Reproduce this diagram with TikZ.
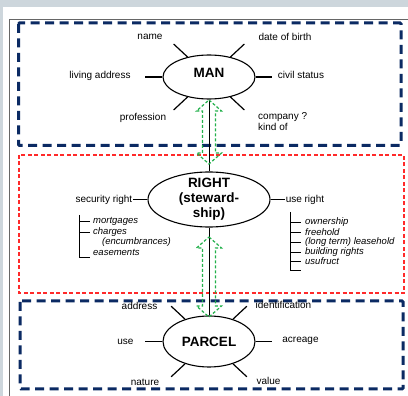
\documentclass[tikz,border=0pt]{standalone}
\usepackage{fontspec}
\setmainfont{Liberation Sans}
\usetikzlibrary{calc,shapes.geometric}
\definecolor{boxnavy}{HTML}{0B2A63}
\definecolor{boxred}{HTML}{FF2A2A}
\definecolor{boxgreen}{HTML}{22B04A}
\definecolor{pagegrey}{HTML}{CDD6DC}
\def\spokeLen{19pt}
\def\headLen{11}

\begin{document}
\begin{tikzpicture}[x=1pt,y=-1pt]
    \tikzstyle{entity}=[ellipse,draw=black,line width=1.1pt,inner sep=0pt,align=center,font=\fontsize{13.5}{15}\selectfont\bfseries]
    \tikzstyle{attr}=[inner sep=1pt,font=\fontsize{10}{11}\selectfont]
    \tikzstyle{kind}=[anchor=west,inner sep=0pt,font=\fontsize{9.5}{10}\selectfont\itshape]
    \tikzstyle{spoke}=[line width=1.2pt]
    \tikzstyle{bracket}=[line width=0.9pt]
    \tikzstyle{group box}=[draw=boxnavy,line width=3pt,dash pattern=on 9pt off 5.5pt,rounded corners=1pt]
    \tikzstyle{right box}=[draw=boxred,line width=1.2pt,dash pattern=on 4pt off 2.5pt]
    \tikzstyle{link arrow}=[draw=boxgreen,line width=1.2pt,dash pattern=on 3pt off 2pt]

    % Page background and frame
    \useasboundingbox (0,0) rectangle (408,396);
    \fill[pagegrey] (0,0) rectangle (408,396);
    \fill[white] (3,7) rectangle (408,396);
    \draw[black!60,line width=0.8pt] (9,396) -- (9,19) -- (408,19);

    % Draw the group boxes
    \draw[group box] (18.5,23) rectangle (401,145.5);
    \draw[right box] (19,155) rectangle (404,293);
    \draw[group box] (20,301) rectangle (403,389);

    % Draw the entities
    \node[entity,minimum width=92pt,minimum height=44pt,text depth=8pt] (man) at (209,77) {MAN};
    \node[entity,minimum width=122pt,minimum height=55pt,inner ysep=-6pt] (right) at (209,199.5) {RIGHT\\(steward-\\ship)};
    \node[entity,minimum width=92pt,minimum height=51pt] (parcel) at (209,341.5) {PARCEL};

    % Draw the spokes
    \foreach \a in {137,43,223,317} {
        \path (man.\a) ++(\a:\spokeLen) coordinate (man-\a);
        \draw[spoke] (man.\a) -- (man-\a);
        \path (parcel.\a) ++(\a:\spokeLen) coordinate (parcel-\a);
        \draw[spoke] (parcel.\a) -- (parcel-\a);
    }
    \foreach \a/\l in {180/17pt,0/16pt} {
        \path (man.\a) ++(\a:\l) coordinate (man-\a);
        \draw[spoke] (man.\a) -- (man-\a);
        \path (right.\a) ++(\a:14pt) coordinate (right-\a);
        \draw[spoke] (right.\a) -- (right-\a);
        \path (parcel.\a) ++(\a:\l) coordinate (parcel-\a);
        \draw[spoke] (parcel.\a) -- (parcel-\a);
    }

    % Draw the attributes of MAN
    \foreach \name / \x / \y / \txt in {1/150/37/name, 2/285/37/date of birth, 3/100/76/living address,
                                       4/301/75/civil status, 5/143/118/profession}
        \node[attr] (M-\name) at (\x,\y) {\txt};
    \node[attr,anchor=west,align=left,inner sep=0pt] (M-6) at (258,121.5) {company ?\\kind of};

    % Draw the attributes of PARCEL
    \foreach \name / \x / \y / \txt in {1/139.5/306/address, 2/283.5/305/identification, 3/125.5/342/use,
                                       4/300.5/341/acreage, 5/145/382/nature, 6/268.5/381/value}
        \node[attr] (P-\name) at (\x,\y) {\txt};

    % Draw the kinds of RIGHT
    \node[attr,anchor=east] (R-1) at (right-180) {security right};
    \node[attr,anchor=west] (R-2) at (right-0) {use right};

    \foreach \name / \x / \y / \txt in {1/93/221/mortgages, 2/93/232/charges, 3/102/242/{(encumbrances)}, 4/93/252/easements}
        \node[kind] (S-\name) at (\x,\y) {\txt};
    \foreach \name / \y / \txt in {1/222/ownership, 2/232/freehold, 3/242/{(long term) leasehold},
                                   4/252/building rights, 5/261/usufruct}
        \node[kind] (U-\name) at (305,\y) {\txt};

    % Brackets
    \coordinate (S-top) at (79,215);
    \coordinate (S-bot) at (79,257);
    \draw[bracket] (S-top) -- (S-bot) -- ++(11,0);
    \foreach \name in {1,2}
        \draw[bracket] (S-top |- S-\name.west) -- ++(11,0);
    \coordinate (U-top) at (290,212);
    \coordinate (U-bot) at (290,270);
    \draw[bracket] (U-top) -- (U-bot) -- ++(11,0);
    \foreach \name in {1,...,5}
        \draw[bracket] (U-top |- U-\name.west) -- ++(11,0);

    % Links between the entities
    \draw[line width=1pt] (man.south) -- (right.north);
    \draw[line width=1pt] (right.south) -- (parcel.north);
    \coordinate (L-1) at (209,100);
    \coordinate (L-2) at (209,237);
    \foreach \name / \shaft in {1/42, 2/58}
        \draw[link arrow] (L-\name) -- ++(12.5,\headLen) -- ++(-6,0) -- ++(0,\shaft) -- ++(6,0)
            -- ++(-12.5,\headLen) -- ++(-12.5,-\headLen) -- ++(6,0) -- ++(0,-\shaft) -- ++(-6,0) -- cycle;
\end{tikzpicture}
\end{document}
